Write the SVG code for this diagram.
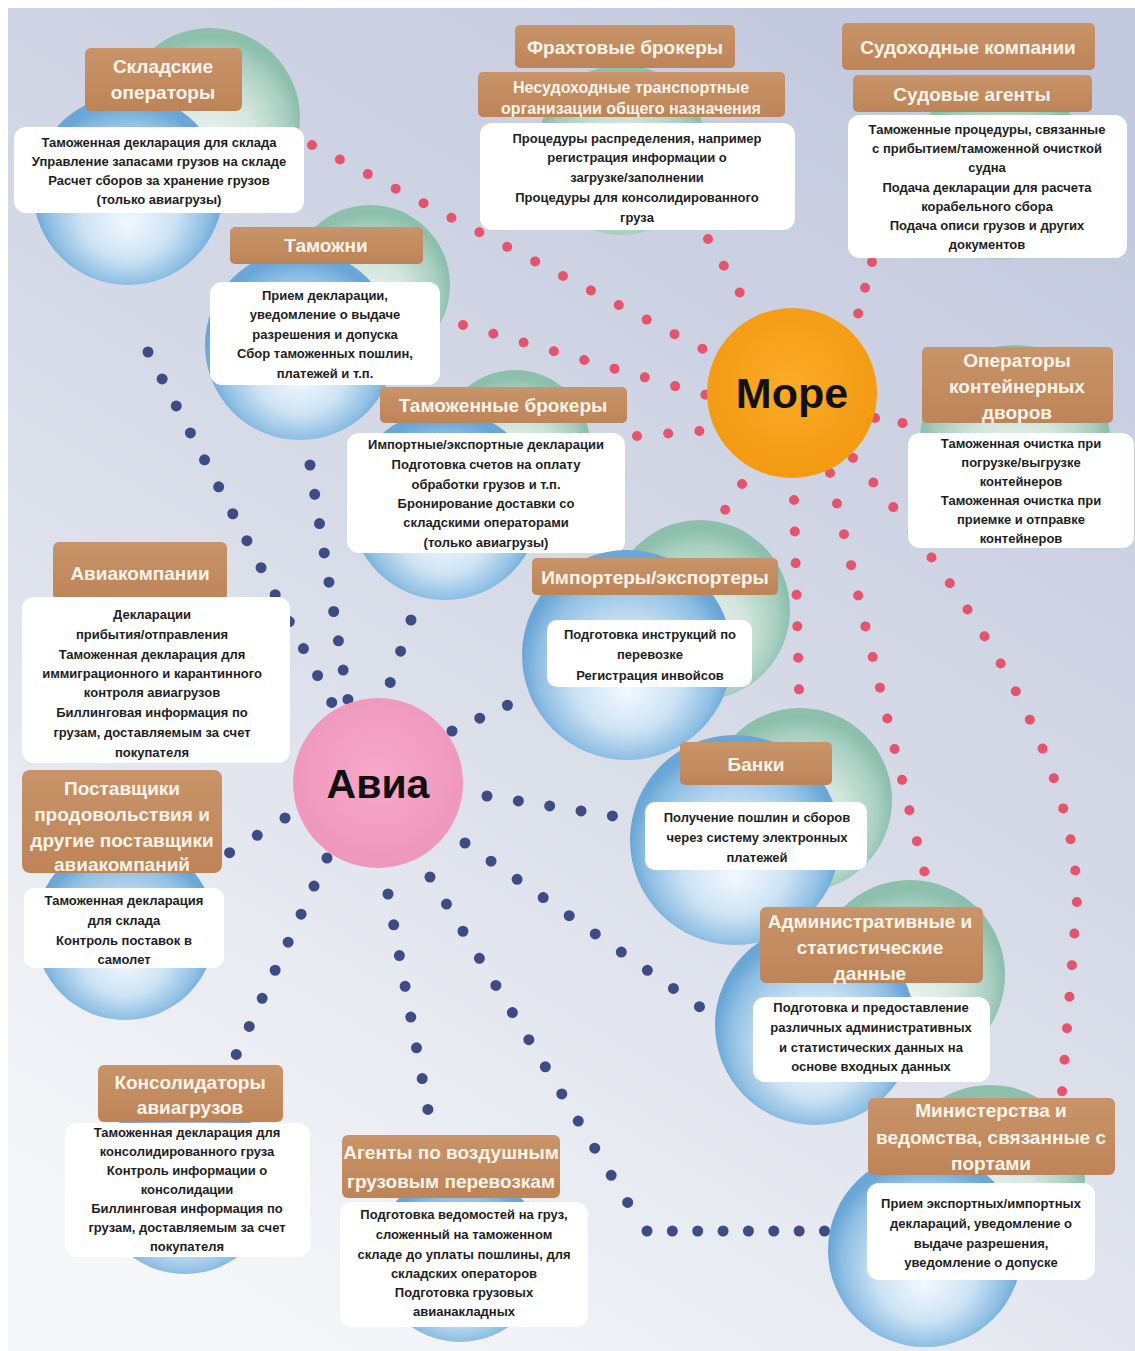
<svg xmlns="http://www.w3.org/2000/svg" width="1135" height="1351" viewBox="0 0 1135 1351">
<defs>
<linearGradient id="bg" x1="0.75" y1="0" x2="0.25" y2="1">
<stop offset="0" stop-color="#c3c9de"/>
<stop offset="0.5" stop-color="#d8dce8"/>
<stop offset="1" stop-color="#f6f7fa"/>
</linearGradient>
<radialGradient id="gB" cx="0.5" cy="0.55" r="0.5" fx="0.5" fy="0.68">
<stop offset="0" stop-color="#f2f8fd"/>
<stop offset="0.5" stop-color="#cde3f4"/>
<stop offset="0.85" stop-color="#8fbfe4"/>
<stop offset="1" stop-color="#6aa6d6"/>
</radialGradient>
<radialGradient id="gG" cx="0.5" cy="0.55" r="0.5" fx="0.5" fy="0.68">
<stop offset="0" stop-color="#eef5f2"/>
<stop offset="0.5" stop-color="#d3e6de"/>
<stop offset="0.85" stop-color="#a8cfc1"/>
<stop offset="1" stop-color="#8dbfad"/>
</radialGradient>
<linearGradient id="gBr" x1="0" y1="0" x2="0" y2="1">
<stop offset="0" stop-color="#c9946a"/>
<stop offset="1" stop-color="#bd8457"/>
</linearGradient>
<radialGradient id="gSea" cx="0.5" cy="0.45" r="0.55">
<stop offset="0" stop-color="#fbab26"/>
<stop offset="1" stop-color="#f39a12"/>
</radialGradient>
<radialGradient id="gAir" cx="0.5" cy="0.45" r="0.55">
<stop offset="0" stop-color="#f5a9c9"/>
<stop offset="1" stop-color="#ef96bc"/>
</radialGradient>
</defs>
<style>
.lbl{fill:url(#gBr)}
.box{fill:#ffffff}
.sb{fill:url(#gB)}
.sg{fill:url(#gG)}
.lt{font-family:"Liberation Sans",Arial,sans-serif;font-weight:bold;font-size:19px;fill:#fdf4ea;text-anchor:middle}
.lt2{font-family:"Liberation Sans",Arial,sans-serif;font-weight:bold;font-size:16px;fill:#fdf4ea;text-anchor:middle}
.tx{font-family:"Liberation Sans",Arial,sans-serif;font-weight:bold;font-size:13px;fill:#1e1e1e;text-anchor:middle}
.big{font-family:"Liberation Sans",Arial,sans-serif;font-weight:bold;fill:#111;text-anchor:middle}
.red{fill:none;stroke:#e5546c;stroke-width:10;stroke-linecap:round;stroke-dasharray:0 1}
.blue{fill:none;stroke:#3d4c85;stroke-width:11;stroke-linecap:round;stroke-dasharray:0 1}
</style>
<rect width="1135" height="1351" fill="#ffffff"/>
<rect x="8" y="8" width="1127" height="1343" fill="url(#bg)"/>

<g id="connectors">
<path class="red" pathLength="14.02" d="M312 145 L703 349"/>
<path class="red" pathLength="8.02" d="M463 325 L706 395"/>
<path class="red" pathLength="2.02" d="M637 436 L700 431"/>
<path class="red" pathLength="2.02" d="M708 239 L740 293"/>
<path class="red" pathLength="2.02" d="M872 262 L858 314"/>
<path class="red" pathLength="1.02" d="M875 418 L903 423"/>
<path class="red" pathLength="14.02" d="M830 473 Q870 650 932 903"/>
<path class="red" pathLength="6.02" d="M794 500 L799 690"/>
<path class="red" pathLength="2.02" d="M742 484 L708 536"/>
<path class="red" pathLength="22.02" d="M853 458 Q1075 720 1077 900 L1062 1092"/>
<path class="blue" pathLength="13.02" d="M148 352 L332 703"/>
<path class="blue" pathLength="8.02" d="M310 465 L348 700"/>
<path class="blue" pathLength="2.02" d="M411 620 L390 683"/>
<path class="blue" pathLength="2.02" d="M285 818 L229 853"/>
<path class="blue" pathLength="7.02" d="M327 858 L236 1055"/>
<path class="blue" pathLength="7.02" d="M388 894 L428 1110"/>
<path class="blue" pathLength="9.02" d="M465 843 L700 1007"/>
<path class="blue" pathLength="12.02" d="M430 877 L628 1203"/>
<path class="blue" pathLength="7.02" d="M647 1231 L825 1231"/>
<path class="blue" pathLength="4.02" d="M487 796 L613 816"/>
<path class="blue" pathLength="2.02" d="M452 731 L508 705"/>
</g>

<g id="node-sklad">
<circle class="sg" cx="210" cy="118" r="90"/>
<circle class="sb" cx="128" cy="190" r="95"/>
<rect class="lbl" x="85" y="48" width="157" height="63" rx="6"/>
<text class="lt" x="163" y="73">Складские</text>
<text class="lt" x="163" y="99">операторы</text>
<rect class="box" x="14" y="127" width="290" height="86" rx="12"/>
<text class="tx" x="159" y="147">Таможенная декларация для склада</text>
<text class="tx" x="159" y="166">Управление запасами грузов на складе</text>
<text class="tx" x="159" y="185">Расчет сборов за хранение грузов</text>
<text class="tx" x="159" y="204">(только авиагрузы)</text>
</g>

<g id="node-tamozhni">
<circle class="sg" cx="370" cy="285" r="80"/>
<circle class="sb" cx="300" cy="345" r="95"/>
<rect class="lbl" x="230" y="227" width="193" height="37" rx="5"/>
<text class="lt" x="326" y="252">Таможни</text>
<rect class="box" x="210" y="282" width="230" height="103" rx="12"/>
<text class="tx" x="325" y="300">Прием декларации,</text>
<text class="tx" x="325" y="319">уведомление о выдаче</text>
<text class="tx" x="325" y="339">разрешения и допуска</text>
<text class="tx" x="325" y="358">Сбор таможенных пошлин,</text>
<text class="tx" x="325" y="378">платежей и т.п.</text>
</g>

<g id="node-brokers">
<circle class="sg" cx="515" cy="445" r="75"/>
<circle class="sb" cx="445" cy="505" r="95"/>
<rect class="lbl" x="380" y="387" width="247" height="36" rx="5"/>
<text class="lt" x="503" y="412">Таможенные брокеры</text>
<rect class="box" x="347" y="433" width="278" height="120" rx="12"/>
<text class="tx" x="486" y="449">Импортные/экспортные декларации</text>
<text class="tx" x="486" y="469">Подготовка счетов на оплату</text>
<text class="tx" x="486" y="489">обработки грузов и т.п.</text>
<text class="tx" x="486" y="508">Бронирование доставки со</text>
<text class="tx" x="486" y="527">складскими операторами</text>
<text class="tx" x="486" y="547">(только авиагрузы)</text>
</g>

<g id="node-freight">
<circle class="sg" cx="622" cy="150" r="85"/>
<rect class="lbl" x="515" y="25" width="220" height="43" rx="5"/>
<text class="lt" x="625" y="54">Фрахтовые брокеры</text>
<rect class="lbl" x="478" y="72" width="307" height="45" rx="5"/>
<text class="lt2" x="631" y="93">Несудоходные транспортные</text>
<text class="lt2" x="631" y="114">организации общего назначения</text>
<rect class="box" x="480" y="123" width="315" height="107" rx="12"/>
<text class="tx" x="637" y="143">Процедуры распределения, например</text>
<text class="tx" x="637" y="162">регистрация информации о</text>
<text class="tx" x="637" y="182">загрузке/заполнении</text>
<text class="tx" x="637" y="202">Процедуры для консолидированного</text>
<text class="tx" x="637" y="222">груза</text>
</g>

<g id="node-shipping">
<circle class="sg" cx="1000" cy="170" r="90"/>
<rect class="lbl" x="842" y="23" width="253" height="47" rx="5"/>
<text class="lt" x="968" y="54">Судоходные компании</text>
<rect class="lbl" x="853" y="75" width="239" height="37" rx="5"/>
<text class="lt" x="972" y="101">Судовые агенты</text>
<rect class="box" x="848" y="115" width="279" height="143" rx="12"/>
<text class="tx" x="987" y="134">Таможенные процедуры, связанные</text>
<text class="tx" x="987" y="153">с прибытием/таможенной очисткой</text>
<text class="tx" x="987" y="172">судна</text>
<text class="tx" x="987" y="192">Подача декларации для расчета</text>
<text class="tx" x="987" y="211">корабельного сбора</text>
<text class="tx" x="987" y="230">Подача описи грузов и других</text>
<text class="tx" x="987" y="249">документов</text>
</g>

<g id="node-container">
<circle class="sg" cx="1015" cy="440" r="95"/>
<rect class="lbl" x="922" y="347" width="191" height="76" rx="5"/>
<text class="lt" x="1017" y="367">Операторы</text>
<text class="lt" x="1017" y="393">контейнерных</text>
<text class="lt" x="1017" y="419">дворов</text>
<rect class="box" x="908" y="433" width="226" height="115" rx="12"/>
<text class="tx" x="1021" y="448">Таможенная очистка при</text>
<text class="tx" x="1021" y="467">погрузке/выгрузке</text>
<text class="tx" x="1021" y="486">контейнеров</text>
<text class="tx" x="1021" y="505">Таможенная очистка при</text>
<text class="tx" x="1021" y="524">приемке и отправке</text>
<text class="tx" x="1021" y="543">контейнеров</text>
</g>

<g id="node-airlines">
<rect class="lbl" x="53" y="542" width="174" height="58" rx="6"/>
<text class="lt" x="140" y="580">Авиакомпании</text>
<rect class="box" x="22" y="597" width="268" height="166" rx="12"/>
<text class="tx" x="152" y="619">Декларации</text>
<text class="tx" x="152" y="639">прибытия/отправления</text>
<text class="tx" x="152" y="659">Таможенная декларация для</text>
<text class="tx" x="152" y="678">иммиграционного и карантинного</text>
<text class="tx" x="152" y="697">контроля авиагрузов</text>
<text class="tx" x="152" y="717">Биллинговая информация по</text>
<text class="tx" x="152" y="737">грузам, доставляемым за счет</text>
<text class="tx" x="152" y="757">покупателя</text>
</g>

<g id="node-suppliers">
<circle class="sb" cx="125" cy="930" r="90"/>
<rect class="lbl" x="22" y="770" width="200" height="103" rx="8"/>
<text class="lt" x="122" y="795">Поставщики</text>
<text class="lt" x="122" y="821">продовольствия и</text>
<text class="lt" x="122" y="847">другие поставщики</text>
<text class="lt" x="122" y="871">авиакомпаний</text>
<rect class="box" x="24" y="888" width="200" height="80" rx="10"/>
<text class="tx" x="124" y="905">Таможенная декларация</text>
<text class="tx" x="124" y="925">для склада</text>
<text class="tx" x="124" y="945">Контроль поставок в</text>
<text class="tx" x="124" y="964">самолет</text>
</g>

<g id="node-importers">
<circle class="sg" cx="700" cy="610" r="90"/>
<circle class="sb" cx="627" cy="655" r="105"/>
<rect class="lbl" x="532" y="558" width="246" height="37" rx="5"/>
<text class="lt" x="655" y="584">Импортеры/экспортеры</text>
<rect class="box" x="547" y="620" width="205" height="67" rx="10"/>
<text class="tx" x="650" y="639">Подготовка инструкций по</text>
<text class="tx" x="650" y="659">перевозке</text>
<text class="tx" x="650" y="680">Регистрация инвойсов</text>
</g>

<g id="node-banks">
<circle class="sg" cx="800" cy="800" r="92"/>
<circle class="sb" cx="735" cy="840" r="105"/>
<rect class="lbl" x="680" y="742" width="152" height="43" rx="5"/>
<text class="lt" x="756" y="771">Банки</text>
<rect class="box" x="645" y="802" width="222" height="68" rx="10"/>
<text class="tx" x="757" y="822">Получение пошлин и сборов</text>
<text class="tx" x="757" y="842">через систему электронных</text>
<text class="tx" x="757" y="862">платежей</text>
</g>

<g id="node-admin">
<circle class="sg" cx="910" cy="975" r="95"/>
<circle class="sb" cx="815" cy="1025" r="100"/>
<rect class="lbl" x="760" y="907" width="223" height="76" rx="6"/>
<text class="lt" x="870" y="928">Административные и</text>
<text class="lt" x="870" y="954">статистические</text>
<text class="lt" x="870" y="980">данные</text>
<rect class="box" x="753" y="997" width="237" height="85" rx="12"/>
<text class="tx" x="871" y="1012">Подготовка и предоставление</text>
<text class="tx" x="871" y="1032">различных административных</text>
<text class="tx" x="871" y="1052">и статистических данных на</text>
<text class="tx" x="871" y="1071">основе входных данных</text>
</g>

<g id="node-consolidators">
<circle class="sb" cx="185" cy="1184" r="90"/>
<rect class="lbl" x="98" y="1065" width="185" height="57" rx="6"/>
<text class="lt" x="190" y="1089">Консолидаторы</text>
<text class="lt" x="190" y="1114">авиагрузов</text>
<rect class="box" x="65" y="1123" width="245" height="134" rx="12"/>
<text class="tx" x="187" y="1137">Таможенная декларация для</text>
<text class="tx" x="187" y="1156">консолидированного груза</text>
<text class="tx" x="187" y="1175">Контроль информации о</text>
<text class="tx" x="187" y="1194">консолидации</text>
<text class="tx" x="187" y="1213">Биллинговая информация по</text>
<text class="tx" x="187" y="1232">грузам, доставляемым за счет</text>
<text class="tx" x="187" y="1251">покупателя</text>
</g>

<g id="node-agents">
<circle class="sb" cx="460" cy="1257" r="85"/>
<rect class="lbl" x="342" y="1135" width="218" height="63" rx="6"/>
<text class="lt" x="451" y="1159">Агенты по воздушным</text>
<text class="lt" x="451" y="1188">грузовым перевозкам</text>
<rect class="box" x="340" y="1202" width="248" height="125" rx="12"/>
<text class="tx" x="464" y="1219">Подготовка ведомостей на груз,</text>
<text class="tx" x="464" y="1239">сложенный на таможенном</text>
<text class="tx" x="464" y="1259">складе до уплаты пошлины, для</text>
<text class="tx" x="464" y="1278">складских операторов</text>
<text class="tx" x="464" y="1297">Подготовка грузовых</text>
<text class="tx" x="464" y="1316">авианакладных</text>
</g>

<g id="node-ministries">
<circle class="sg" cx="990" cy="1180" r="95"/>
<circle class="sb" cx="925" cy="1250" r="97"/>
<rect class="lbl" x="868" y="1098" width="247" height="77" rx="6"/>
<text class="lt" x="991" y="1117">Министерства и</text>
<text class="lt" x="991" y="1144">ведомства, связанные с</text>
<text class="lt" x="991" y="1170">портами</text>
<rect class="box" x="867" y="1183" width="228" height="97" rx="12"/>
<text class="tx" x="981" y="1208">Прием экспортных/импортных</text>
<text class="tx" x="981" y="1228">деклараций, уведомление о</text>
<text class="tx" x="981" y="1248">выдаче разрешения,</text>
<text class="tx" x="981" y="1267">уведомление о допуске</text>
</g>

<g id="node-sea">
<circle cx="792" cy="393" r="85" fill="url(#gSea)"/>
<text class="big" x="792" y="408" font-size="43">Море</text>
</g>

<g id="node-air">
<circle cx="378" cy="783" r="85" fill="url(#gAir)"/>
<text class="big" x="378" y="798" font-size="41">Авиа</text>
</g>
</svg>
